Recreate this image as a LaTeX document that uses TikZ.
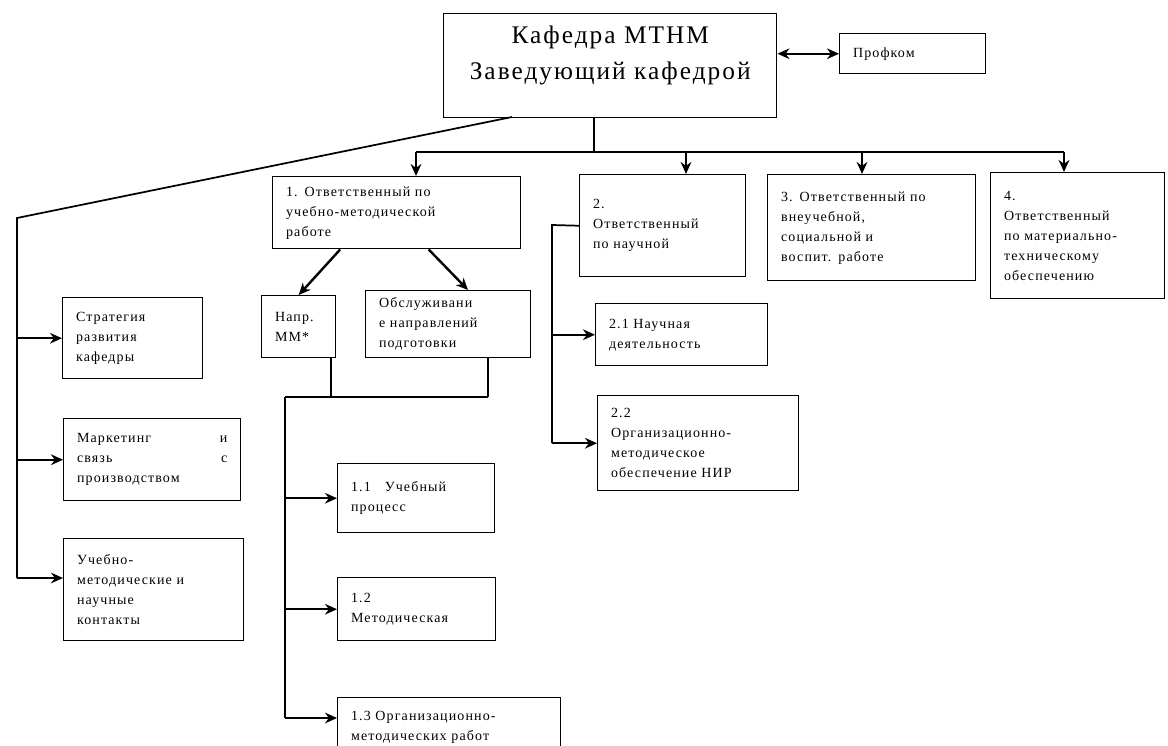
\documentclass[tikz,border=0pt]{standalone}
\usepackage{fontspec}
\setmainfont{Liberation Serif}[LetterSpace=8]
\usetikzlibrary{arrows.meta}

\begin{document}
\begin{tikzpicture}[x=0.75pt, y=-0.75pt,
  box/.style={draw, line width=1.1pt, align=left, anchor=north west, inner xsep=10pt, inner ysep=3pt, font=\fontsize{10.5}{15}\selectfont},
  line/.style={line width=1.3pt},
  arrow/.style={-{Stealth[length=9pt, width=8pt]}, line width=1.8pt},
  dblarrow/.style={{Stealth[length=9pt, width=8pt]}-{Stealth[length=9pt, width=8pt]}, line width=1.8pt}
]
  \clip (0,0) rectangle (1168,746);

  % Head of the department
  \node[box, text width=229.75pt, minimum height=78pt, align=center, text depth=46pt, font=\fontsize{19}{27}\selectfont] (kaf) at (443,13) {Кафедра МТНМ\\Заведующий кафедрой};
  \node[box, text width=89.5pt, minimum height=30pt] (prof) at (839,33) {Профком};

  % Responsible persons
  \node[box, text width=166pt, minimum height=54pt] (otv1) at (272,176) {1. Ответственный по\\учебно-методической\\работе};
  \node[box, text width=104.5pt, minimum height=76.5pt] (otv2) at (579,174) {2.\\Ответственный\\по научной};
  \node[box, text width=136pt, minimum height=79.5pt] (otv3) at (767,174) {3. Ответственный по\\внеучебной,\\социальной и\\воспит. работе};
  \node[box, text width=110.5pt, minimum height=94.5pt] (otv4) at (990,172) {4.\\Ответственный\\по материально-\\техническому\\обеспечению};

  % Left column
  \node[box, text width=85pt, minimum height=60.75pt] (strat) at (62,297) {Стратегия\\развития\\кафедры};
  \node[box, text width=112.75pt, minimum height=61.5pt] (mark) at (63,418) {Маркетинг\hfill и\\связь\hfill с\\производством};
  \node[box, text width=115pt, minimum height=76.5pt] (ucheb) at (63,538) {Учебно-\\методические и\\научные\\контакты};

  % Educational work
  \node[box, text width=35.5pt, minimum height=46.5pt] (napr) at (261,295) {Напр.\\ММ*};
  \node[box, text width=103.75pt, minimum height=50.25pt] (obsl) at (365,290) {Обслуживани\\е направлений\\подготовки};
  \node[box, text width=97.75pt, minimum height=51.75pt] (p11) at (337,463) {1.1\quad Учебный\\процесс};
  \node[box, text width=98.5pt, minimum height=47.25pt] (p12) at (337,577) {1.2\\Методическая};
  \node[box, text width=147.25pt, minimum height=45pt] (p13) at (337,697) {1.3 Организационно-\\методических работ};

  % Scientific work
  \node[box, text width=109pt, minimum height=46.5pt] (p21) at (595,303) {2.1 Научная\\деятельность};
  \node[box, text width=130.75pt, minimum height=71.25pt] (p22) at (597,395) {2.2\\Организационно-\\методическое\\обеспечение НИР};

  % Bus points
  \coordinate (hub) at (594,152);
  \coordinate (a1) at (416,152);
  \coordinate (a2) at (686,152);
  \coordinate (a3) at (862,152);
  \coordinate (a4) at (1064,152);
  \coordinate (dstart) at (512,117);
  \coordinate (lbus) at (17,218);
  \coordinate (lend) at (17,578);
  \coordinate (mbus) at (285,397);
  \coordinate (mend) at (285,718);
  \coordinate (nconn) at (331,397);
  \coordinate (oconn) at (488,397);
  \coordinate (sbus) at (552,225);

  % Arrows
  \draw[dblarrow] (kaf.east |- prof.west) -- (prof.west);
  \draw[line] (kaf.south -| hub) -- (hub);
  \draw[line] (a1) -- (a4);
  \draw[arrow] (a1) -- (a1 |- otv1.north);
  \draw[arrow] (a2) -- (a2 |- otv2.north);
  \draw[arrow] (a3) -- (a3 |- otv3.north);
  \draw[arrow] (a4) -- (a4 |- otv4.north);

  \draw[line] (dstart) -- (lbus) -- (lend);
  \draw[arrow] (lbus |- strat.west) -- (strat.west);
  \draw[arrow] (lbus |- mark.west) -- (mark.west);
  \draw[arrow] (lend) -- (lend -| ucheb.west);

  \draw[arrow] (otv1.213) -- (napr.north);
  \draw[arrow] (otv1.311) -- (obsl.60);
  \draw[line] (napr.south -| nconn) -- (nconn);
  \draw[line] (obsl.south -| oconn) -- (oconn);
  \draw[line] (mbus) -- (oconn);
  \draw[line] (mbus) -- (mend);
  \draw[arrow] (mbus |- p11.west) -- (p11.west);
  \draw[arrow] (mbus |- p12.west) -- (p12.west);
  \draw[arrow] (mend) -- (mend -| p13.west);

  \draw[line] (otv2.west) -- (sbus) -- (sbus |- p22.west);
  \draw[arrow] (sbus |- p21.west) -- (p21.west);
  \draw[arrow] (sbus |- p22.west) -- (p22.west);

\end{tikzpicture}
\end{document}
